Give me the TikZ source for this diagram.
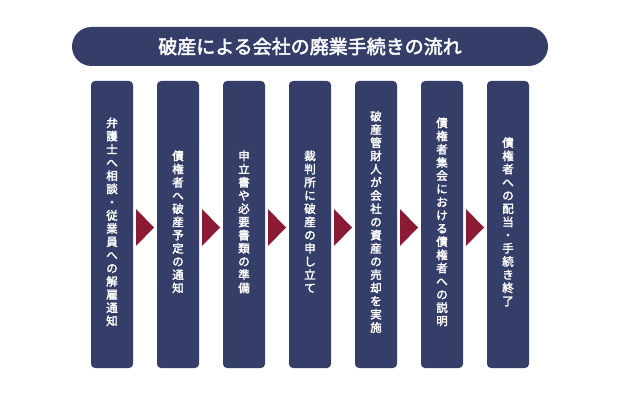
\documentclass[tikz,border=0pt]{standalone}
\usepackage{fontspec}
\newfontfamily\cjk{Noto Sans CJK JP}[AutoFakeBold=2.5]
\definecolor{navy}{HTML}{343E69}
\definecolor{wine}{HTML}{8B1A34}
\makeatletter
\newcommand\vtext[1]{\lineskiplimit=-20pt\lineskip=0pt\@tfor\ch:=#1\do{\ch\\}}
\makeatother
\begin{document}
\begin{tikzpicture}[x=1pt,y=-1pt,
  col/.style={fill=navy,rounded corners=4pt},
  vlabel/.style={text=white,font=\cjk\bfseries\fontsize{11.5}{13.2}\selectfont,align=center,inner sep=0pt},
  tri/.style={fill=wine}]
\useasboundingbox (0,0) rectangle (620,401);
\fill[navy,rounded corners=19.5pt] (72,27) rectangle (548,66);
\node[text=white,font=\cjk\bfseries\fontsize{19}{21}\selectfont] (title) at (310,46.5) {破産による会社の廃業手続きの流れ};
\foreach \i/\t in {0/{弁護士へ相談・従業員への解雇通知},1/{債権者へ破産予定の通知},2/{申立書や必要書類の準備},3/{裁判所に破産の申し立て},4/{破産管財人が会社の資産の売却を実施},5/{債権者集会における債権者への説明},6/{債権者への配当・手続き終了}}{
  \pgfmathsetmacro\xl{91+66*\i}
  \fill[col] (\xl,81) rectangle ++(42,287);
  \node[vlabel] (c\i) at (\xl+21,228) {\expandafter\vtext\expandafter{\t}};
}
\foreach \i in {0,...,5}{
  \pgfmathsetmacro\xa{136+66*\i}
  \fill[tri] (\xa,209) -- (\xa+18,227.5) -- (\xa,246) -- cycle;
}
\end{tikzpicture}
\end{document}
